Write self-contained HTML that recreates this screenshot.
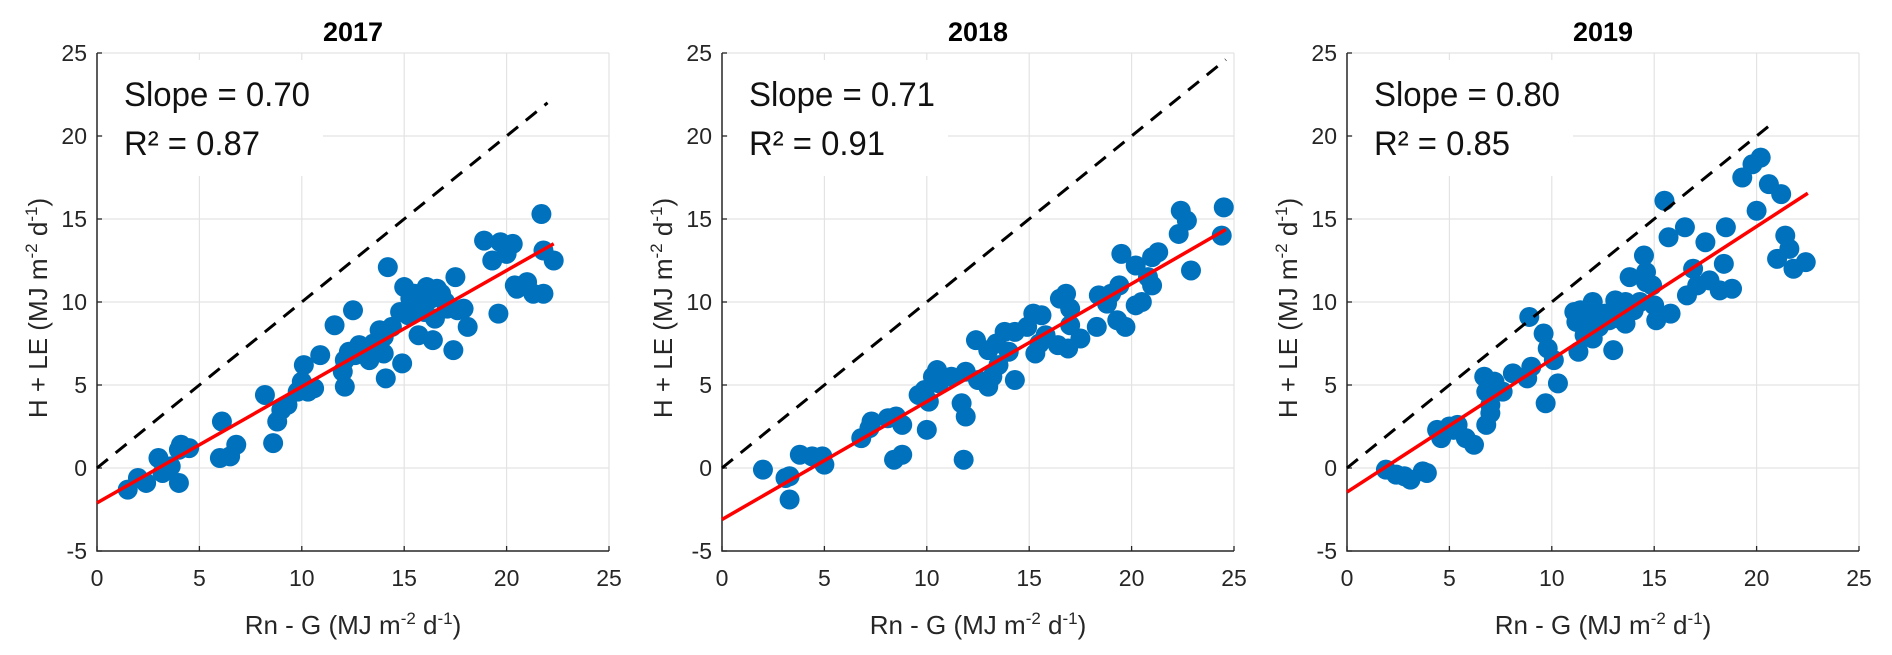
<!DOCTYPE html>
<html><head><meta charset="utf-8"><style>
html,body{margin:0;padding:0;background:#fff;}
svg{display:block;font-family:"Liberation Sans",sans-serif;}
</style></head><body>
<svg id="chart" width="1892" height="655" viewBox="0 0 1892 655" xmlns="http://www.w3.org/2000/svg"></svg>
<script>
const years = ["2017","2018","2019"];
const slopes = ["0.70","0.71","0.80"];
const r2s = ["0.87","0.91","0.85"];
const fitSlope = [0.70,0.71,0.80];
const fitIntercept = [-2.1,-3.1,-1.45];
const fitXmax = [22.3,24.6,22.5];
const oneToOneXmax = [22,24.6,20.9];
const xTicks = [0,5,10,15,20,25];
const yTicks = [-5,0,5,10,15,20,25];
const x2017 = [1.5,2,2.4,3,3.2,3.6,4,4,4.1,4.5,6,6.1,6.5,6.8,8.2,8.6,8.8,9,9.3,9.8,10,10.1,10.3,10.6,10.9,11.6,12,12.1,12.1,12.3,12.5,12.6,13,13.3,13.5,13.7,14,14,14.2,14.1,14.4,14.8,14.9,15,15.2,15.5,15.7,15.8,16,16.1,16.3,16.4,16.5,16.8,17.1,17.4,17.5,17.6,17.9,18.1,18.9,19.3,19.6,19.7,20,20.3,20.4,20.5,21,21.3,21.7,21.8,21.8,22.3,15.3,16.6,13.8,12.8,15.6,17.0,16.0];
const y2017 = [-1.3,-0.6,-0.9,0.6,-0.3,0.1,1.1,-0.9,1.4,1.2,0.6,2.8,0.7,1.4,4.4,1.5,2.8,3.5,3.8,4.6,5.2,6.2,4.6,4.8,6.8,8.6,5.8,6.5,4.9,7,9.5,6.8,7.2,6.5,7.5,7.1,7.9,6.9,12.1,5.4,8.5,9.4,6.3,10.9,9.2,10.5,8.0,9.8,10.6,10.9,10.2,7.7,9.0,10.5,9.6,7.1,11.5,9.5,9.6,8.5,13.7,12.5,9.3,13.6,12.9,13.5,11.0,10.8,11.2,10.5,15.3,13.1,10.5,12.5,10.2,10.8,8.3,7.4,9.8,10.0,9.4];
const x2018 = [2,3.1,3.3,3.3,3.8,4.4,4.9,5,6.8,7.2,7.3,8.1,8.4,8.5,8.8,8.8,9.6,9.9,10,10.1,10.3,10.5,10.6,11.2,11.7,11.9,11.8,11.9,12.4,12.5,13,13,13.2,13.4,13.5,13.8,14,14.3,14.3,14.9,15.2,15.3,15.6,15.5,15.8,16.4,16.5,16.8,16.9,17.0,17.0,17.5,18.3,18.4,18.8,19.0,19.3,19.4,19.7,19.5,20.2,20.5,20.8,21,21.3,22.4,22.7,22.3,22.9,24.5,24.4,20.2,21.0];
const y2018 = [-0.1,-0.6,-0.5,-1.9,0.8,0.7,0.7,0.2,1.8,2.4,2.8,3,0.5,3.1,2.6,0.8,4.4,4.7,2.3,4.0,5.5,5.9,5.1,5.5,3.9,3.1,0.5,5.8,7.7,5.3,4.9,7.1,5.5,7.5,6.2,8.2,7.0,5.3,8.2,8.5,9.3,6.9,9.2,7.5,8.0,7.4,10.2,10.5,7.2,8.6,9.6,7.8,8.5,10.4,9.9,10.5,8.9,11.0,8.5,12.9,12.2,10.0,11.5,12.7,13.0,15.5,14.9,14.1,11.9,15.7,14.0,9.8,11.0];
const x2019 = [1.9,2.4,2.8,3.1,3.7,3.9,4.4,4.6,5.0,5.2,5.4,5.8,6.2,6.7,6.8,6.8,7.0,7.0,7.2,7.3,7.6,8.1,8.8,8.9,9.0,9.6,9.8,9.7,10.1,10.3,11.1,11.2,11.3,11.4,11.6,11.8,12.0,12.0,12.3,12.6,12.8,13.0,13.1,13.3,13.6,13.8,14.0,14.3,14.5,14.6,14.6,15.0,15.1,15.5,15.7,15.8,16.5,16.6,16.9,17.1,17.5,17.7,18.2,18.4,18.5,18.8,19.3,19.8,20.0,20.2,20.6,21.0,21.2,21.4,21.6,21.8,22.4,13.6,14.9];
const y2019 = [-0.1,-0.4,-0.5,-0.7,-0.2,-0.3,2.3,1.8,2.5,2.3,2.6,1.8,1.4,5.5,4.6,2.6,3.3,3.8,5.2,4.8,4.6,5.7,5.4,9.1,6.1,8.1,7.2,3.9,6.5,5.1,9.4,8.8,7.0,9.5,8.0,9.0,10.0,7.8,8.5,9.3,8.9,7.1,10.1,9.0,8.7,11.5,9.5,10.0,12.8,11.8,11.2,9.8,8.9,16.1,13.9,9.3,14.5,10.4,12.0,11.0,13.6,11.3,10.7,12.3,14.5,10.8,17.5,18.3,15.5,18.7,17.1,12.6,16.5,14.0,13.2,12.0,12.4,10.0,11.0];
const xsAll = [x2017,x2018,x2019];
const ysAll = [y2017,y2018,y2019];

const NS="http://www.w3.org/2000/svg";
const svg=document.getElementById('chart');
const origins=[97,722,1347];
const PX=20.48, Y0=468, PY=16.6;
function mk(tag,attrs,parent){const e=document.createElementNS(NS,tag);for(const k in attrs)e.setAttribute(k,attrs[k]);(parent||svg).appendChild(e);return e;}

for(let p=0;p<3;p++){
  const ox=origins[p];
  const sx=v=>ox+v*PX, sy=v=>Y0-v*PY;
  const g=mk('g',{});
  
  
  xTicks.forEach(t=>{if(t===0)return;const l=mk('line',{x1:sx(t),x2:sx(t),y1:sy(25),y2:sy(-5),stroke:'#e3e3e3','stroke-width':1.2},g);
    });
  yTicks.forEach(t=>{if(t===-5)return;const l=mk('line',{x1:sx(0),x2:sx(25),y1:sy(t),y2:sy(t),stroke:'#e3e3e3','stroke-width':1.2},g);
    });
  const box=mk('rect',{x:ox+6,y:60,width:220,height:116,fill:'#fff'},g);
  
  const ax=mk('path',{d:`M${sx(0)},${sy(25)}V${sy(-5)}H${sx(25)}`,fill:'none',stroke:'#262626','stroke-width':1.5},g);
  
  xTicks.forEach(t=>{mk('line',{x1:sx(t),x2:sx(t),y1:sy(-5),y2:sy(-5)-5,stroke:'#262626','stroke-width':1.3},g);
    const tx=mk('text',{x:sx(t),y:586,'text-anchor':'middle','font-size':23,fill:'#262626'},g);tx.textContent=t;
    });
  yTicks.forEach(t=>{mk('line',{x1:sx(0),x2:sx(0)+5,y1:sy(t),y2:sy(t),stroke:'#262626','stroke-width':1.3},g);
    const tx=mk('text',{x:sx(0)-10,y:sy(t)+8,'text-anchor':'end','font-size':23,fill:'#262626'},g);tx.textContent=t;
    });
  const xs=xsAll[p], ys=ysAll[p];
  for(let i=0;i<xs.length;i++){const c=mk('circle',{cx:sx(xs[i]),cy:sy(ys[i]),r:10,fill:'#0072BD'},g);
    }
  const d=mk('line',{x1:sx(0),y1:sy(0),x2:sx(oneToOneXmax[p]),y2:sy(oneToOneXmax[p]),stroke:'#000','stroke-width':3,'stroke-dasharray':'14,10'},g);
  
  const f=mk('line',{x1:sx(0),y1:sy(fitIntercept[p]),x2:sx(fitXmax[p]),y2:sy(fitIntercept[p]+fitSlope[p]*fitXmax[p]),stroke:'#ff0000','stroke-width':3.5},g);
  
  const s=mk('text',{x:ox+27,y:106,'font-size':34,fill:'#111',textLength:186,lengthAdjust:'spacingAndGlyphs'},g);
  s.textContent='Slope = '+slopes[p];
  
  const r=mk('text',{x:ox+27,y:155,'font-size':34,fill:'#111',textLength:136,lengthAdjust:'spacingAndGlyphs'},g);
  r.textContent='R² = '+r2s[p];
  
  const ti=mk('text',{x:sx(12.5),y:41,'text-anchor':'middle','font-size':27,'font-weight':'bold',fill:'#000'},g);
  ti.textContent=years[p];
  
  const xl=mk('text',{x:sx(12.5),y:634,'text-anchor':'middle','font-size':26,fill:'#262626'},g);
  xl.innerHTML='Rn - G (MJ m<tspan dy="-10" font-size="17">-2</tspan><tspan dy="10"> d</tspan><tspan dy="-10" font-size="17">-1</tspan><tspan dy="10">)</tspan>';
  
  const yl=mk('text',{x:0,y:0,'text-anchor':'middle','font-size':26,fill:'#262626',transform:`translate(${ox-50},308) rotate(-90)`},g);
  yl.innerHTML='H + LE (MJ m<tspan dy="-10" font-size="17">-2</tspan><tspan dy="10"> d</tspan><tspan dy="-10" font-size="17">-1</tspan><tspan dy="10">)</tspan>';
  
}
</script>
</body></html>
